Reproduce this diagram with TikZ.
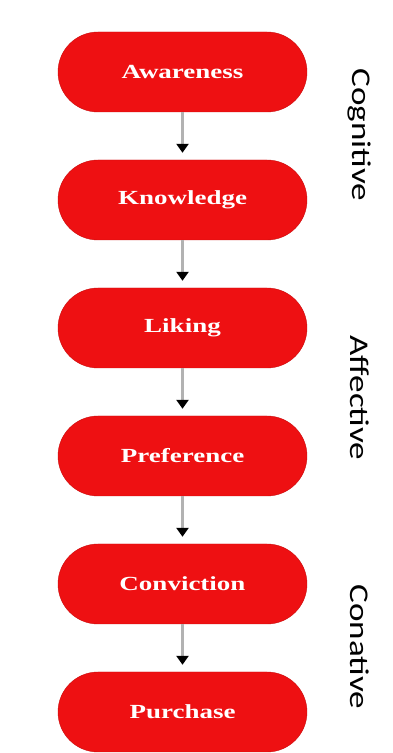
\documentclass[tikz,border=0pt]{standalone}
\usepackage{fontspec}
\usetikzlibrary{arrows.meta}
\newfontfamily\boxfont{Liberation Serif}[FakeStretch=1.35]
\newfontfamily\sidefont{Carlito}[FakeStretch=1.3]
\definecolor{boxred}{RGB}{238,16,18}
\begin{document}
\begin{tikzpicture}[x=1pt,y=1pt,
stage/.style={draw=boxred!85!black,fill=boxred,rounded corners=40pt,minimum width=249pt,minimum height=80pt,text=white,font=\boxfont\bfseries\fontsize{20}{20}\selectfont},
side/.style={rotate=-90,font=\sidefont\fontsize{27}{27}\selectfont},
flow/.style={draw=gray!60,line width=2.5pt,shorten >=7pt,-{Triangle[black,length=9pt,width=12pt]}}]
\pgfmathsetmacro{\cx}{182.5}
\pgfmathsetmacro{\d}{128}
\useasboundingbox(0,0)rectangle(393,753);
\node[stage](aw)at(\cx,681){Awareness};
\node[stage](kn)at(\cx,681-\d){Knowledge};
\node[stage](li)at(\cx,681-2*\d){Liking};
\node[stage](pr)at(\cx,681-3*\d){Preference};
\node[stage](co)at(\cx,681-4*\d){Conviction};
\node[stage](pu)at(\cx,681-5*\d){Purchase};
%
\draw[flow](aw)--(kn);
\draw[flow](kn)--(li);
\draw[flow](li)--(pr);
\draw[flow](pr)--(co);
\draw[flow](co)--(pu);
%
\node[side](cog)at(360,618){Cognitive};
\node[side](aff)at(360,355){Affective};
\node[side](con)at(360,106){Conative};
\end{tikzpicture}
\end{document}
